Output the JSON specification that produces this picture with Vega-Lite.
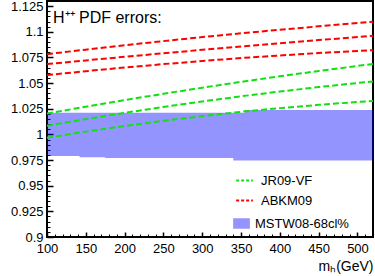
{
  "$schema": "https://vega.github.io/schema/vega-lite/v6.json",
  "width": 326,
  "height": 236,
  "autosize": {"type": "none"},
  "padding": {"left": 47, "top": 1, "right": 2, "bottom": 38},
  "config": {
    "font": "Liberation Sans",
    "view": {"stroke": "black", "strokeWidth": 2},
    "axis": {"grid": false, "domain": false, "tickColor": "black", "labelColor": "black", "labelFont": "Liberation Sans", "labelFontSize": 13, "titleFont": "Liberation Sans", "zindex": 1},
    "legend": {"labelFont": "Liberation Sans", "labelFontSize": 13, "labelColor": "black", "padding": 0}
  },
  "title": {"text": "H⁺⁺ PDF errors:", "anchor": "start", "frame": "group", "offset": 0, "dx": 6, "dy": 39, "baseline": "alphabetic", "fontSize": 16, "fontWeight": "normal", "font": "Liberation Sans", "color": "black"},
  "datasets": {
    "band": [
      {"x": 100, "lo": 0.9789, "hi": 1.0211},
      {"x": 142, "lo": 0.9777, "hi": 1.0211},
      {"x": 175, "lo": 0.9770, "hi": 1.0211},
      {"x": 340, "lo": 0.9745, "hi": 1.0211},
      {"x": 355, "lo": 0.9745, "hi": 1.0237},
      {"x": 520, "lo": 0.9745, "hi": 1.0237}
    ],
    "lines": [
      {"series": "JR09-VF", "curve": "JR up", "x": 100, "y": 1.0203},
      {"series": "JR09-VF", "curve": "JR up", "x": 150, "y": 1.0270},
      {"series": "JR09-VF", "curve": "JR up", "x": 200, "y": 1.0334},
      {"series": "JR09-VF", "curve": "JR up", "x": 250, "y": 1.0396},
      {"series": "JR09-VF", "curve": "JR up", "x": 300, "y": 1.0455},
      {"series": "JR09-VF", "curve": "JR up", "x": 350, "y": 1.0512},
      {"series": "JR09-VF", "curve": "JR up", "x": 400, "y": 1.0566},
      {"series": "JR09-VF", "curve": "JR up", "x": 450, "y": 1.0618},
      {"series": "JR09-VF", "curve": "JR up", "x": 500, "y": 1.0667},
      {"series": "JR09-VF", "curve": "JR up", "x": 520, "y": 1.0686},
      {"series": "JR09-VF", "curve": "JR mid", "x": 100, "y": 1.0085},
      {"series": "JR09-VF", "curve": "JR mid", "x": 150, "y": 1.0149},
      {"series": "JR09-VF", "curve": "JR mid", "x": 200, "y": 1.0210},
      {"series": "JR09-VF", "curve": "JR mid", "x": 250, "y": 1.0267},
      {"series": "JR09-VF", "curve": "JR mid", "x": 300, "y": 1.0321},
      {"series": "JR09-VF", "curve": "JR mid", "x": 350, "y": 1.0371},
      {"series": "JR09-VF", "curve": "JR mid", "x": 400, "y": 1.0418},
      {"series": "JR09-VF", "curve": "JR mid", "x": 450, "y": 1.0461},
      {"series": "JR09-VF", "curve": "JR mid", "x": 500, "y": 1.0501},
      {"series": "JR09-VF", "curve": "JR mid", "x": 520, "y": 1.0516},
      {"series": "JR09-VF", "curve": "JR lo", "x": 100, "y": 0.9967},
      {"series": "JR09-VF", "curve": "JR lo", "x": 150, "y": 1.0027},
      {"series": "JR09-VF", "curve": "JR lo", "x": 200, "y": 1.0082},
      {"series": "JR09-VF", "curve": "JR lo", "x": 250, "y": 1.0132},
      {"series": "JR09-VF", "curve": "JR lo", "x": 300, "y": 1.0178},
      {"series": "JR09-VF", "curve": "JR lo", "x": 350, "y": 1.0220},
      {"series": "JR09-VF", "curve": "JR lo", "x": 400, "y": 1.0256},
      {"series": "JR09-VF", "curve": "JR lo", "x": 450, "y": 1.0288},
      {"series": "JR09-VF", "curve": "JR lo", "x": 500, "y": 1.0316},
      {"series": "JR09-VF", "curve": "JR lo", "x": 520, "y": 1.0326},
      {"series": "ABKM09", "curve": "AB up", "x": 100, "y": 1.0782},
      {"series": "ABKM09", "curve": "AB up", "x": 150, "y": 1.0826},
      {"series": "ABKM09", "curve": "AB up", "x": 200, "y": 1.0869},
      {"series": "ABKM09", "curve": "AB up", "x": 250, "y": 1.0909},
      {"series": "ABKM09", "curve": "AB up", "x": 300, "y": 1.0948},
      {"series": "ABKM09", "curve": "AB up", "x": 350, "y": 1.0985},
      {"series": "ABKM09", "curve": "AB up", "x": 400, "y": 1.1020},
      {"series": "ABKM09", "curve": "AB up", "x": 450, "y": 1.1053},
      {"series": "ABKM09", "curve": "AB up", "x": 500, "y": 1.1085},
      {"series": "ABKM09", "curve": "AB up", "x": 520, "y": 1.1097},
      {"series": "ABKM09", "curve": "AB mid", "x": 100, "y": 1.0685},
      {"series": "ABKM09", "curve": "AB mid", "x": 150, "y": 1.0721},
      {"series": "ABKM09", "curve": "AB mid", "x": 200, "y": 1.0756},
      {"series": "ABKM09", "curve": "AB mid", "x": 250, "y": 1.0791},
      {"series": "ABKM09", "curve": "AB mid", "x": 300, "y": 1.0824},
      {"series": "ABKM09", "curve": "AB mid", "x": 350, "y": 1.0857},
      {"series": "ABKM09", "curve": "AB mid", "x": 400, "y": 1.0889},
      {"series": "ABKM09", "curve": "AB mid", "x": 450, "y": 1.0919},
      {"series": "ABKM09", "curve": "AB mid", "x": 500, "y": 1.0949},
      {"series": "ABKM09", "curve": "AB mid", "x": 520, "y": 1.0961},
      {"series": "ABKM09", "curve": "AB lo", "x": 100, "y": 1.0578},
      {"series": "ABKM09", "curve": "AB lo", "x": 150, "y": 1.0616},
      {"series": "ABKM09", "curve": "AB lo", "x": 200, "y": 1.0652},
      {"series": "ABKM09", "curve": "AB lo", "x": 250, "y": 1.0685},
      {"series": "ABKM09", "curve": "AB lo", "x": 300, "y": 1.0715},
      {"series": "ABKM09", "curve": "AB lo", "x": 350, "y": 1.0744},
      {"series": "ABKM09", "curve": "AB lo", "x": 400, "y": 1.0769},
      {"series": "ABKM09", "curve": "AB lo", "x": 450, "y": 1.0793},
      {"series": "ABKM09", "curve": "AB lo", "x": 500, "y": 1.0813},
      {"series": "ABKM09", "curve": "AB lo", "x": 520, "y": 1.0821}
    ]
  },
  "layer": [
    {
      "data": {"name": "band"},
      "mark": {"type": "area", "interpolate": "step-after", "opacity": 0.42},
      "encoding": {
        "x": {"field": "x", "type": "quantitative", "scale": {"domain": [100, 520], "nice": false, "zero": false},
          "axis": {"orient": "bottom", "values": [100,110,120,130,140,150,160,170,180,190,200,210,220,230,240,250,260,270,280,290,300,310,320,330,340,350,360,370,380,390,400,410,420,430,440,450,460,470,480,490,500,510,520], "labels": false, "tickSize": -3, "tickWidth": 1, "title": null}},
        "y": {"field": "lo", "type": "quantitative", "scale": {"domain": [0.9, 1.13], "nice": false, "zero": false},
          "axis": {"orient": "left", "values": [0.9,0.905,0.91,0.915,0.92,0.925,0.93,0.935,0.94,0.945,0.95,0.955,0.96,0.965,0.97,0.975,0.98,0.985,0.99,0.995,1,1.005,1.01,1.015,1.02,1.025,1.03,1.035,1.04,1.045,1.05,1.055,1.06,1.065,1.07,1.075,1.08,1.085,1.09,1.095,1.1,1.105,1.11,1.115,1.12,1.125], "labels": false, "tickSize": -3, "tickWidth": 1, "title": null}},
        "y2": {"field": "hi"},
        "fill": {"datum": "MSTW08-68cl%", "type": "nominal", "scale": {"domain": ["MSTW08-68cl%"], "range": ["#0000ff"]},
          "legend": {"orient": "none", "legendX": 188, "legendY": 216, "title": null, "symbolType": "M-1.6,-1H1.6V1H-1.6Z", "symbolSize": 110, "symbolOpacity": 0.42, "symbolStrokeWidth": 0, "labelOffset": 7}}
      }
    },
    {
      "mark": {"type": "rule", "color": "#0000ff", "strokeWidth": 1.5},
      "encoding": {"y": {"datum": 1, "type": "quantitative", "axis": null}}
    },
    {
      "data": {"name": "lines"},
      "mark": {"type": "line", "strokeWidth": 2, "strokeDash": [6, 3]},
      "encoding": {
        "x": {"field": "x", "type": "quantitative", "scale": {"domain": [100, 520], "nice": false, "zero": false},
          "axis": {"orient": "bottom", "values": [100,150,200,250,300,350,400,450,500], "format": "d", "tickSize": -5, "tickWidth": 1.5, "labelPadding": 10, "labelFlush": false, "labelOverlap": false, "title": "mₕ(GeV)", "titleAnchor": "end", "titleFontSize": 14, "titleFontWeight": "normal", "titlePadding": 4}},
        "y": {"field": "y", "type": "quantitative", "scale": {"domain": [0.9, 1.13], "nice": false, "zero": false},
          "axis": {"orient": "left", "values": [0.9,0.925,0.95,0.975,1,1.025,1.05,1.075,1.1,1.125], "format": ".3~f", "tickSize": -6, "tickWidth": 1.5, "labelPadding": 10, "labelFlush": false, "labelOverlap": false, "title": null}},
        "detail": {"field": "curve"},
        "stroke": {"field": "series", "type": "nominal", "scale": {"domain": ["JR09-VF", "ABKM09"], "range": ["#11e011", "#ff0000"]},
          "legend": {"orient": "none", "legendX": 188, "legendY": 170, "title": null, "symbolType": "stroke", "symbolSize": 280, "symbolStrokeWidth": 2, "symbolDash": [3, 2], "rowPadding": 3, "labelOffset": 7}}
      }
    }
  ],
  "resolve": {"axis": {"x": "independent", "y": "independent"}}
}
